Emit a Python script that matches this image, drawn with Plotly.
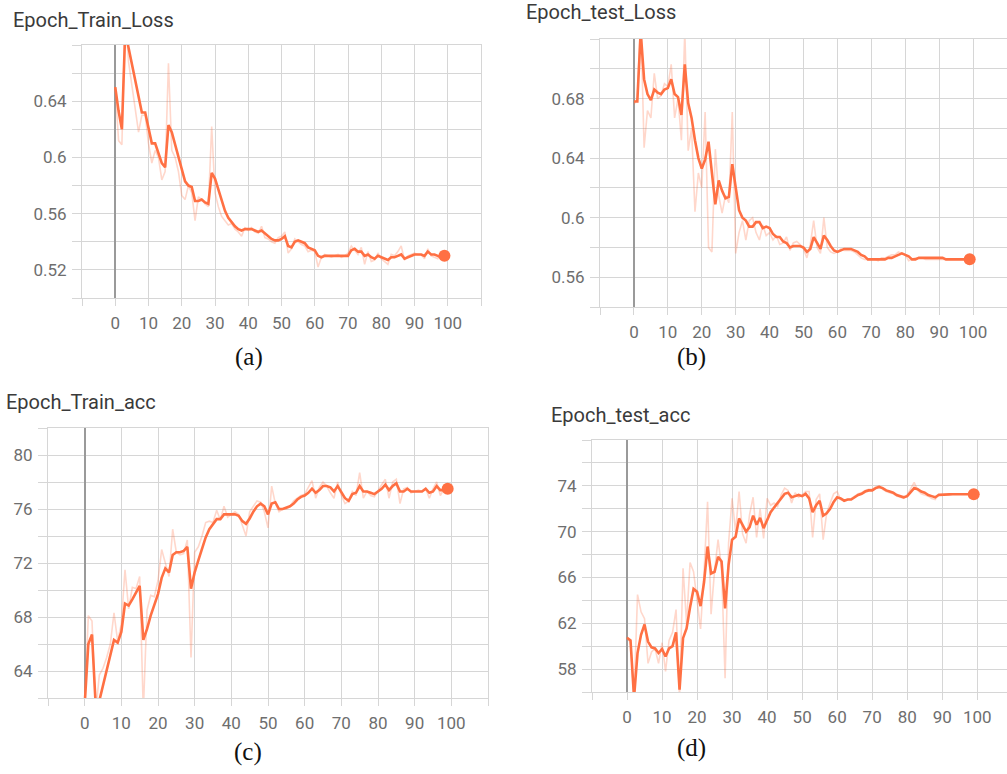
import plotly.graph_objects as go

epochs = list(range(100))

# (a) Epoch_Train_Loss
train_loss_smooth = [0.650, 0.633, 0.620, 0.690, 0.678, 0.666, 0.654, 0.642, 0.632, 0.632,
                     0.621, 0.610, 0.610, 0.603, 0.596, 0.593, 0.623, 0.618, 0.609, 0.601,
                     0.592, 0.583, 0.580, 0.579, 0.569, 0.569, 0.570, 0.568, 0.567, 0.589,
                     0.585, 0.577, 0.569, 0.562, 0.557, 0.554, 0.551, 0.549, 0.548, 0.549,
                     0.549, 0.549, 0.548, 0.547, 0.548, 0.546, 0.544, 0.542, 0.541, 0.541,
                     0.542, 0.544, 0.537, 0.536, 0.540, 0.541, 0.540, 0.539, 0.536, 0.535,
                     0.534, 0.530, 0.529, 0.530, 0.530, 0.530, 0.530, 0.530, 0.530, 0.530,
                     0.530, 0.534, 0.535, 0.533, 0.533, 0.530, 0.531, 0.529, 0.528, 0.530,
                     0.529, 0.528, 0.527, 0.529, 0.529, 0.530, 0.531, 0.528, 0.529, 0.530,
                     0.531, 0.531, 0.531, 0.530, 0.533, 0.531, 0.531, 0.530, 0.529, 0.530]
train_loss_raw = [0.650, 0.612, 0.609, 0.705, 0.668, 0.650, 0.635, 0.618, 0.630, 0.630,
                  0.610, 0.596, 0.605, 0.600, 0.584, 0.590, 0.667, 0.605, 0.600, 0.590,
                  0.573, 0.570, 0.580, 0.575, 0.555, 0.572, 0.570, 0.567, 0.565, 0.622,
                  0.575, 0.565, 0.558, 0.555, 0.552, 0.553, 0.549, 0.547, 0.544, 0.550,
                  0.548, 0.550, 0.547, 0.546, 0.551, 0.543, 0.542, 0.540, 0.539, 0.543,
                  0.544, 0.547, 0.532, 0.535, 0.542, 0.540, 0.538, 0.537, 0.533, 0.534,
                  0.533, 0.522, 0.529, 0.531, 0.530, 0.529, 0.530, 0.531, 0.529, 0.530,
                  0.532, 0.537, 0.534, 0.531, 0.536, 0.524, 0.533, 0.526, 0.527, 0.532,
                  0.528, 0.526, 0.524, 0.531, 0.530, 0.533, 0.537, 0.527, 0.530, 0.531,
                  0.532, 0.531, 0.531, 0.528, 0.535, 0.530, 0.529, 0.528, 0.533, 0.527]

# (b) Epoch_test_Loss
test_loss_smooth = [0.678, 0.678, 0.725, 0.693, 0.683, 0.679, 0.686, 0.684, 0.683, 0.686,
                    0.687, 0.693, 0.683, 0.681, 0.669, 0.703, 0.677, 0.667, 0.652, 0.640,
                    0.633, 0.639, 0.651, 0.632, 0.609, 0.625, 0.618, 0.613, 0.614, 0.636,
                    0.621, 0.605, 0.600, 0.598, 0.594, 0.594, 0.597, 0.597, 0.593, 0.594,
                    0.593, 0.589, 0.587, 0.587, 0.584, 0.583, 0.580, 0.581, 0.581, 0.581,
                    0.580, 0.577, 0.579, 0.587, 0.583, 0.579, 0.588, 0.585, 0.581, 0.578,
                    0.577, 0.578, 0.579, 0.579, 0.579, 0.578, 0.577, 0.575, 0.574, 0.572,
                    0.572, 0.572, 0.572, 0.572, 0.572, 0.573, 0.573, 0.574, 0.575, 0.576,
                    0.575, 0.574, 0.572, 0.572, 0.573, 0.573, 0.573, 0.573, 0.573, 0.573,
                    0.573, 0.573, 0.572, 0.572, 0.572, 0.572, 0.572, 0.572, 0.572, 0.572]
test_loss_raw = [0.676, 0.680, 0.735, 0.647, 0.672, 0.667, 0.697, 0.680, 0.682, 0.690,
                 0.688, 0.703, 0.667, 0.680, 0.652, 0.725, 0.645, 0.660, 0.604, 0.630,
                 0.620, 0.671, 0.580, 0.577, 0.646, 0.615, 0.603, 0.615, 0.610, 0.671,
                 0.576, 0.590, 0.598, 0.585, 0.598, 0.600, 0.590, 0.585, 0.595, 0.588,
                 0.590, 0.585, 0.588, 0.582, 0.583, 0.587, 0.578, 0.583, 0.584, 0.582,
                 0.579, 0.573, 0.582, 0.598, 0.580, 0.576, 0.600, 0.580, 0.577, 0.576,
                 0.577, 0.579, 0.578, 0.578, 0.578, 0.577, 0.575, 0.573, 0.572, 0.572,
                 0.572, 0.572, 0.571, 0.573, 0.573, 0.574, 0.575, 0.575, 0.577, 0.576,
                 0.575, 0.571, 0.572, 0.573, 0.573, 0.573, 0.572, 0.572, 0.572, 0.572,
                 0.572, 0.572, 0.572, 0.572, 0.572, 0.572, 0.572, 0.572, 0.572, 0.572]

# (c) Epoch_Train_acc
train_acc_smooth = [61.5, 66.0, 66.7, 61.5, 61.8, 62.9, 64.0, 65.2, 66.3, 66.1,
                    66.9, 69.0, 68.85, 69.3, 69.8, 70.3, 66.3, 67.1, 68.1, 68.85,
                    69.7, 70.9, 71.6, 71.3, 72.6, 72.8, 72.8, 72.9, 73.2, 70.1,
                    71.3, 72.2, 73.0, 73.9, 74.5, 74.9, 75.25, 75.25, 75.6, 75.6,
                    75.6, 75.6, 75.5, 75.1, 74.9, 75.3, 75.8, 76.2, 76.4, 76.2,
                    75.6, 76.4, 76.5, 76.0, 76.0, 76.1, 76.2, 76.4, 76.7, 76.9,
                    77.0, 77.2, 77.5, 77.2, 77.4, 77.7, 77.7, 77.6, 77.3, 77.7,
                    77.3, 76.8, 76.6, 77.1, 77.2, 77.7, 77.3, 77.3, 77.2, 77.1,
                    77.3, 77.5, 77.8, 77.4, 77.7, 77.9, 77.3, 77.3, 77.5, 77.3,
                    77.3, 77.3, 77.3, 77.5, 77.2, 77.3, 77.7, 77.4, 77.4, 77.5]
train_acc_raw = [61.5, 68.1, 67.7, 61.0, 63.7, 64.2, 65.0, 66.0, 68.3, 66.2,
                 67.5, 71.5, 68.6, 70.2, 70.1, 71.0, 61.0, 68.5, 69.6, 69.5,
                 70.7, 73.0, 72.0, 71.0, 74.5, 72.8, 72.6, 72.7, 73.7, 65.0,
                 72.8, 73.2, 74.0, 75.0, 75.1, 75.0, 75.9, 75.2, 76.2, 75.4,
                 75.6, 75.8, 75.6, 74.8, 74.0, 75.8, 76.2, 76.6, 76.5, 75.8,
                 74.6, 77.7, 76.4, 75.8, 76.0, 76.0, 76.2, 76.6, 76.8, 77.0,
                 77.1, 77.6, 78.1, 76.8, 77.6, 78.0, 77.7, 77.2, 76.8, 78.0,
                 77.0, 76.4, 76.6, 77.3, 77.0, 78.7, 76.8, 77.3, 77.0, 76.9,
                 77.4, 77.8, 78.2, 76.8, 78.0, 78.2, 76.4, 77.5, 77.6, 77.2,
                 77.3, 77.4, 77.3, 77.5, 76.8, 77.5, 78.0, 77.0, 77.5, 77.5]

# (d) Epoch_test_acc
test_acc_smooth = [60.73, 60.5, 55.5, 59.4, 61.0, 61.9, 60.4, 59.9, 59.8, 59.4,
                   59.75, 59.1, 59.8, 60.0, 61.2, 56.2, 60.7, 61.55, 63.4, 65.0,
                   64.75, 63.5, 65.6, 68.7, 66.35, 66.5, 67.8, 67.4, 63.3, 67.1,
                   69.3, 69.55, 71.15, 70.6, 70.0, 70.4, 71.4, 70.6, 71.2, 70.3,
                   71.0, 71.7, 72.1, 72.5, 73.0, 73.3, 73.4, 73.0, 73.1, 73.2,
                   73.1, 73.3, 72.9, 71.7, 72.3, 72.7, 71.4, 71.6, 72.0, 72.6,
                   73.0, 72.9, 72.7, 72.8, 72.8, 73.0, 73.2, 73.3, 73.5, 73.6,
                   73.6, 73.8, 73.9, 73.8, 73.6, 73.5, 73.4, 73.2, 73.1, 73.0,
                   73.1, 73.5, 73.8, 73.7, 73.5, 73.4, 73.2, 73.1, 73.0, 73.2,
                   73.2, 73.25, 73.25, 73.27, 73.27, 73.27, 73.27, 73.27, 73.27, 73.27]
test_acc_raw = [60.8, 60.3, 55.5, 64.5, 63.0, 62.4, 58.5, 59.5, 59.8, 58.5,
                60.3, 57.8, 60.5, 61.2, 63.2, 55.5, 66.8, 62.0, 67.3, 66.5,
                64.0, 61.5, 66.5, 72.6, 62.8, 66.6, 69.3, 66.8, 57.2, 69.0,
                72.9, 70.0, 73.5, 69.8, 69.0, 71.5, 73.0, 69.5, 72.0, 69.4,
                72.9, 72.3, 72.5, 72.2, 73.2, 73.8, 73.6, 72.5, 73.4, 73.0,
                73.2, 73.5, 73.5, 69.5, 72.8, 73.3, 69.3, 71.6, 72.5, 73.3,
                73.5, 72.8, 72.7, 72.8, 72.9, 73.1, 73.3, 73.4, 73.6, 73.7,
                73.7, 73.9, 74.0, 73.7, 73.5, 73.4, 73.3, 73.1, 73.0, 72.9,
                73.2, 73.8, 74.3, 73.6, 73.3, 73.2, 73.1, 72.9, 72.8, 73.3,
                73.3, 73.3, 73.3, 73.3, 73.3, 73.3, 73.3, 73.3, 73.3, 73.3]

titles = ["Epoch_Train_Loss", "Epoch_test_Loss", "Epoch_Train_acc", "Epoch_test_acc"]
captions = ["(a)", "(b)", "(c)", "(d)"]
x_ticks = list(range(-10, 111, 10))

y_grid_a = [0.50, 0.52, 0.54, 0.56, 0.58, 0.60, 0.62, 0.64, 0.66, 0.68]
y_text_a = ["", "0.52", "", "0.56", "", "0.6", "", "0.64", "", ""]
y_grid_b = [0.54, 0.56, 0.58, 0.60, 0.62, 0.64, 0.66, 0.68, 0.70, 0.72]
y_text_b = ["", "0.56", "", "0.6", "", "0.64", "", "0.68", "", ""]
y_grid_c = [62, 64, 66, 68, 70, 72, 74, 76, 78, 80, 82]
y_text_c = ["", "64", "", "68", "", "72", "", "76", "", "80", ""]
y_grid_d = [56, 58, 60, 62, 64, 66, 68, 70, 72, 74, 76, 78]
y_text_d = ["", "58", "", "62", "", "66", "", "70", "", "74", "", ""]

W, H = 1007, 774
ORANGE = "#ff7043"
GRID = "#d6d6d6"
TICKC = "#6e6e6e"

panels = [
    dict(raw=train_loss_raw, sm=train_loss_smooth, yg=y_grid_a, yt=y_text_a,
         yr=[0.50, 0.68], xr=[-10, 110], px=(82, 481), py=(45, 298),
         title_xy=(11, 20), cap_xy=(249, 357)),
    dict(raw=test_loss_raw, sm=test_loss_smooth, yg=y_grid_b, yt=y_text_b,
         yr=[0.54, 0.72], xr=[-10, 110], px=(600, 1007), py=(39, 307),
         title_xy=(524, 12), cap_xy=(691, 357)),
    dict(raw=train_acc_raw, sm=train_acc_smooth, yg=y_grid_c, yt=y_text_c,
         yr=[62, 82], xr=[-10, 110], px=(48, 488), py=(428, 698),
         title_xy=(4, 402), cap_xy=(248, 752)),
    dict(raw=test_acc_raw, sm=test_acc_smooth, yg=y_grid_d, yt=y_text_d,
         yr=[56, 78], xr=[-10, 108.5], px=(592, 1007), py=(440, 692),
         title_xy=(549, 415), cap_xy=(691, 748)),
]

fig = go.Figure()
annotations = []
layout = {}
for i, p in enumerate(panels):
    n = "" if i == 0 else str(i + 1)
    xa, ya = "x" + n, "y" + n
    fig.add_trace(go.Scatter(x=epochs, y=p["raw"], mode="lines", xaxis=xa, yaxis=ya,
                             line=dict(color="rgba(255,112,67,0.28)", width=1.6),
                             hoverinfo="skip", showlegend=False))
    fig.add_trace(go.Scatter(x=epochs, y=p["sm"], mode="lines", xaxis=xa, yaxis=ya,
                             line=dict(color=ORANGE, width=2.6),
                             showlegend=False))
    fig.add_trace(go.Scatter(x=[epochs[-1]], y=[p["sm"][-1]], mode="markers",
                             xaxis=xa, yaxis=ya,
                             marker=dict(color=ORANGE, size=12),
                             showlegend=False))
    x0, x1 = p["px"]
    y0, y1 = p["py"]
    xt_text = ["" if (v < 0 or v > 100) else str(v) for v in x_ticks]
    layout["xaxis" + n] = dict(
        domain=[x0 / W, min(1.0, x1 / W)], anchor=ya, range=p["xr"],
        tickvals=x_ticks, ticktext=xt_text, showgrid=True, gridcolor=GRID, gridwidth=1,
        zeroline=True, zerolinecolor="#9a9a9a", zerolinewidth=2,
        showline=True, linecolor=GRID, linewidth=1, mirror=True,
        ticks="outside", ticklen=7, tickcolor=GRID, tickwidth=1,
        tickfont=dict(family="Roboto", size=17, color=TICKC), ticklabelstandoff=3,
    )
    layout["yaxis" + n] = dict(
        domain=[1 - y1 / H, 1 - y0 / H], anchor=xa, range=p["yr"],
        tickvals=p["yg"], ticktext=p["yt"], showgrid=True, gridcolor=GRID, gridwidth=1,
        zeroline=False, showline=True, linecolor=GRID, linewidth=1, mirror=True,
        ticks="outside", ticklen=9, tickcolor=GRID, tickwidth=1,
        tickfont=dict(family="Roboto", size=17, color=TICKC), ticklabelstandoff=2,
    )
    tx, ty = p["title_xy"]
    annotations.append(dict(text=titles[i], x=tx / W, y=1 - ty / H, xref="paper", yref="paper",
                            xanchor="left", yanchor="middle", showarrow=False,
                            font=dict(family="Roboto", size=20, color="#3a3a3a")))
    cx, cy = p["cap_xy"]
    annotations.append(dict(text=captions[i], x=cx / W, y=1 - cy / H, xref="paper", yref="paper",
                            xanchor="center", yanchor="middle", showarrow=False,
                            font=dict(family="Liberation Serif", size=25, color="#111111")))

fig.update_layout(width=W, height=H, margin=dict(l=0, r=0, t=0, b=0),
                  paper_bgcolor="white", plot_bgcolor="white",
                  annotations=annotations, **layout)
fig.write_html("out.html", config={"displayModeBar": False},
               post_script="document.body.style.margin='0px';")
